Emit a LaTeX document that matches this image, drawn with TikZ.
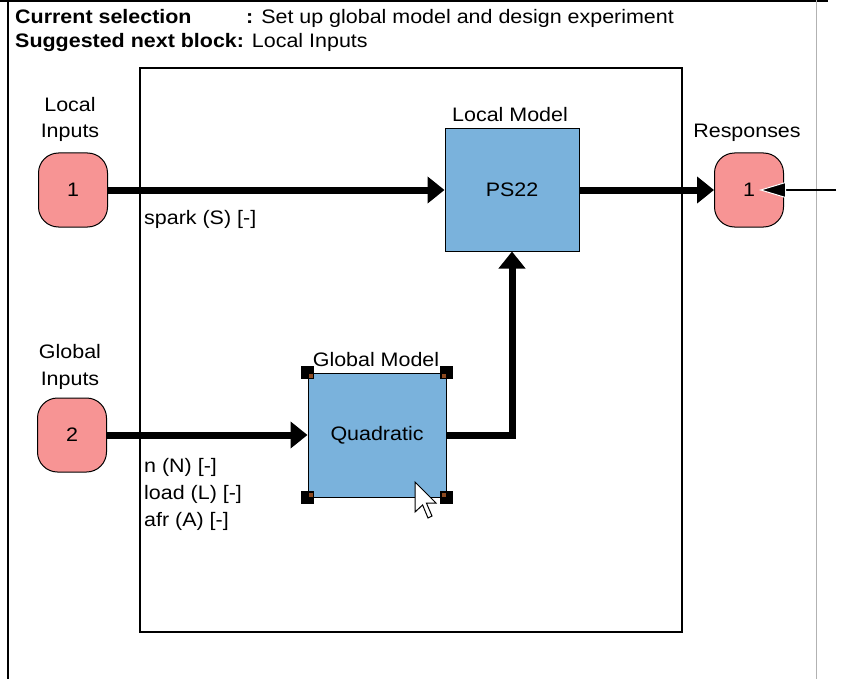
\documentclass[tikz,border=0pt]{standalone}
\usepackage{fontspec}
\setmainfont{Liberation Sans}[FakeStretch=1.1]
\usepackage{tikz}
\usetikzlibrary{arrows.meta}
\definecolor{portpink}{HTML}{F79494}
\definecolor{blockblue}{HTML}{7AB2DC}
\definecolor{handlebrown}{HTML}{8E4B22}
\tikzstyle{port}=[draw=black,fill=portpink,line width=1pt,rounded corners=20pt,minimum width=69pt,minimum height=74pt,font=\fontsize{19.5}{19.5}\selectfont]
\tikzstyle{block}=[draw=black,fill=blockblue,line width=1pt,font=\fontsize{19.5}{19.5}\selectfont]
\tikzstyle{txt}=[inner sep=0pt,anchor=base west,font=\fontsize{19.5}{19.5}\selectfont]
\tikzstyle{ctxt}=[inner sep=0pt,anchor=base,font=\fontsize{19.5}{19.5}\selectfont]
\tikzstyle{wire}=[line width=7pt,-{Triangle[length=17pt,width=26pt]}]
\tikzstyle{probearrow}=[line width=2pt,shorten >=10pt,-{Triangle[length=27pt,width=16pt,color=white,fill=black,line width=1pt]}]
\begin{document}
\begin{tikzpicture}[line cap=butt,line join=miter,x=1pt,y=-1pt]
\useasboundingbox (0,0) rectangle (842,679);
\draw [line width=2pt] (0,1)-- (828,1);
\draw [line width=1.5pt] (8,0)-- (8,679);
\draw [line width=1pt,black!30] (816,0)-- (816,679);
\draw [line width=1.5pt] (140,68) rectangle (682,632);
\node[txt] (cursel) at (15,24) {\textbf{Current selection}};
\node[txt] (curval) at (246,24) {\textbf{:} Set up global model and design experiment};
\node[txt] (nextblk) at (15,48) {\textbf{Suggested next block:} Local Inputs};
\node[port] (lin) at (73,190) {1};
\node[port] (gin) at (72,435) {2};
\node[port] (resp) at (749,190) {1};
\node[block,minimum width=134pt,minimum height=122pt] (loc) at (512,190) {PS22};
\node[block,minimum width=138pt,minimum height=124pt] (glob) at (377,435) {Quadratic};
\node[ctxt] (linlbl1) at (70,112) {Local};
\node[ctxt] (linlbl2) at (70,138) {Inputs};
\node[ctxt] (ginlbl1) at (70,358) {Global};
\node[ctxt] (ginlbl2) at (70,385) {Inputs};
\node[ctxt] (resplbl) at (747,138) {Responses};
\node[ctxt] (loclbl) at (510,122) {Local Model};
\node[ctxt] (globlbl) at (376,366) {Global Model};
\node[txt] (sparklbl) at (144,224) {spark (S) [-]};
\node[txt] (nlbl) at (144,472) {n (N) [-]};
\node[txt] (loadlbl) at (144,499) {load (L) [-]};
\node[txt] (afrlbl) at (144,526) {afr (A) [-]};
\draw [wire] (lin.east)-- (loc.west);
\draw [wire] (gin.east)-- (glob.west);
\draw [wire] (loc.east)-- (resp.west);
\draw [wire] (glob.east)-| (loc.south);
\coordinate (probe) at (836,190);
\draw [probearrow] (probe)-- (resp.center);
\foreach \c/\dx/\dy in {north west/1/1,north east/-1/1,south west/1/-1,south east/-1/-1}
{
\fill [black] (glob.\c) ++(-6.5,-6.5) rectangle ++(13,13);
\fill [handlebrown] (glob.\c) ++(\dx,\dy) rectangle ++(4*\dx,4*\dy);
}
\draw [fill=white,line width=1pt,line join=miter] (415,482)-- (415,512)-- (422.6,505)-- (428,518)-- (432,516)-- (426.4,503)-- (436,503)-- cycle;
\end{tikzpicture}
\end{document}
